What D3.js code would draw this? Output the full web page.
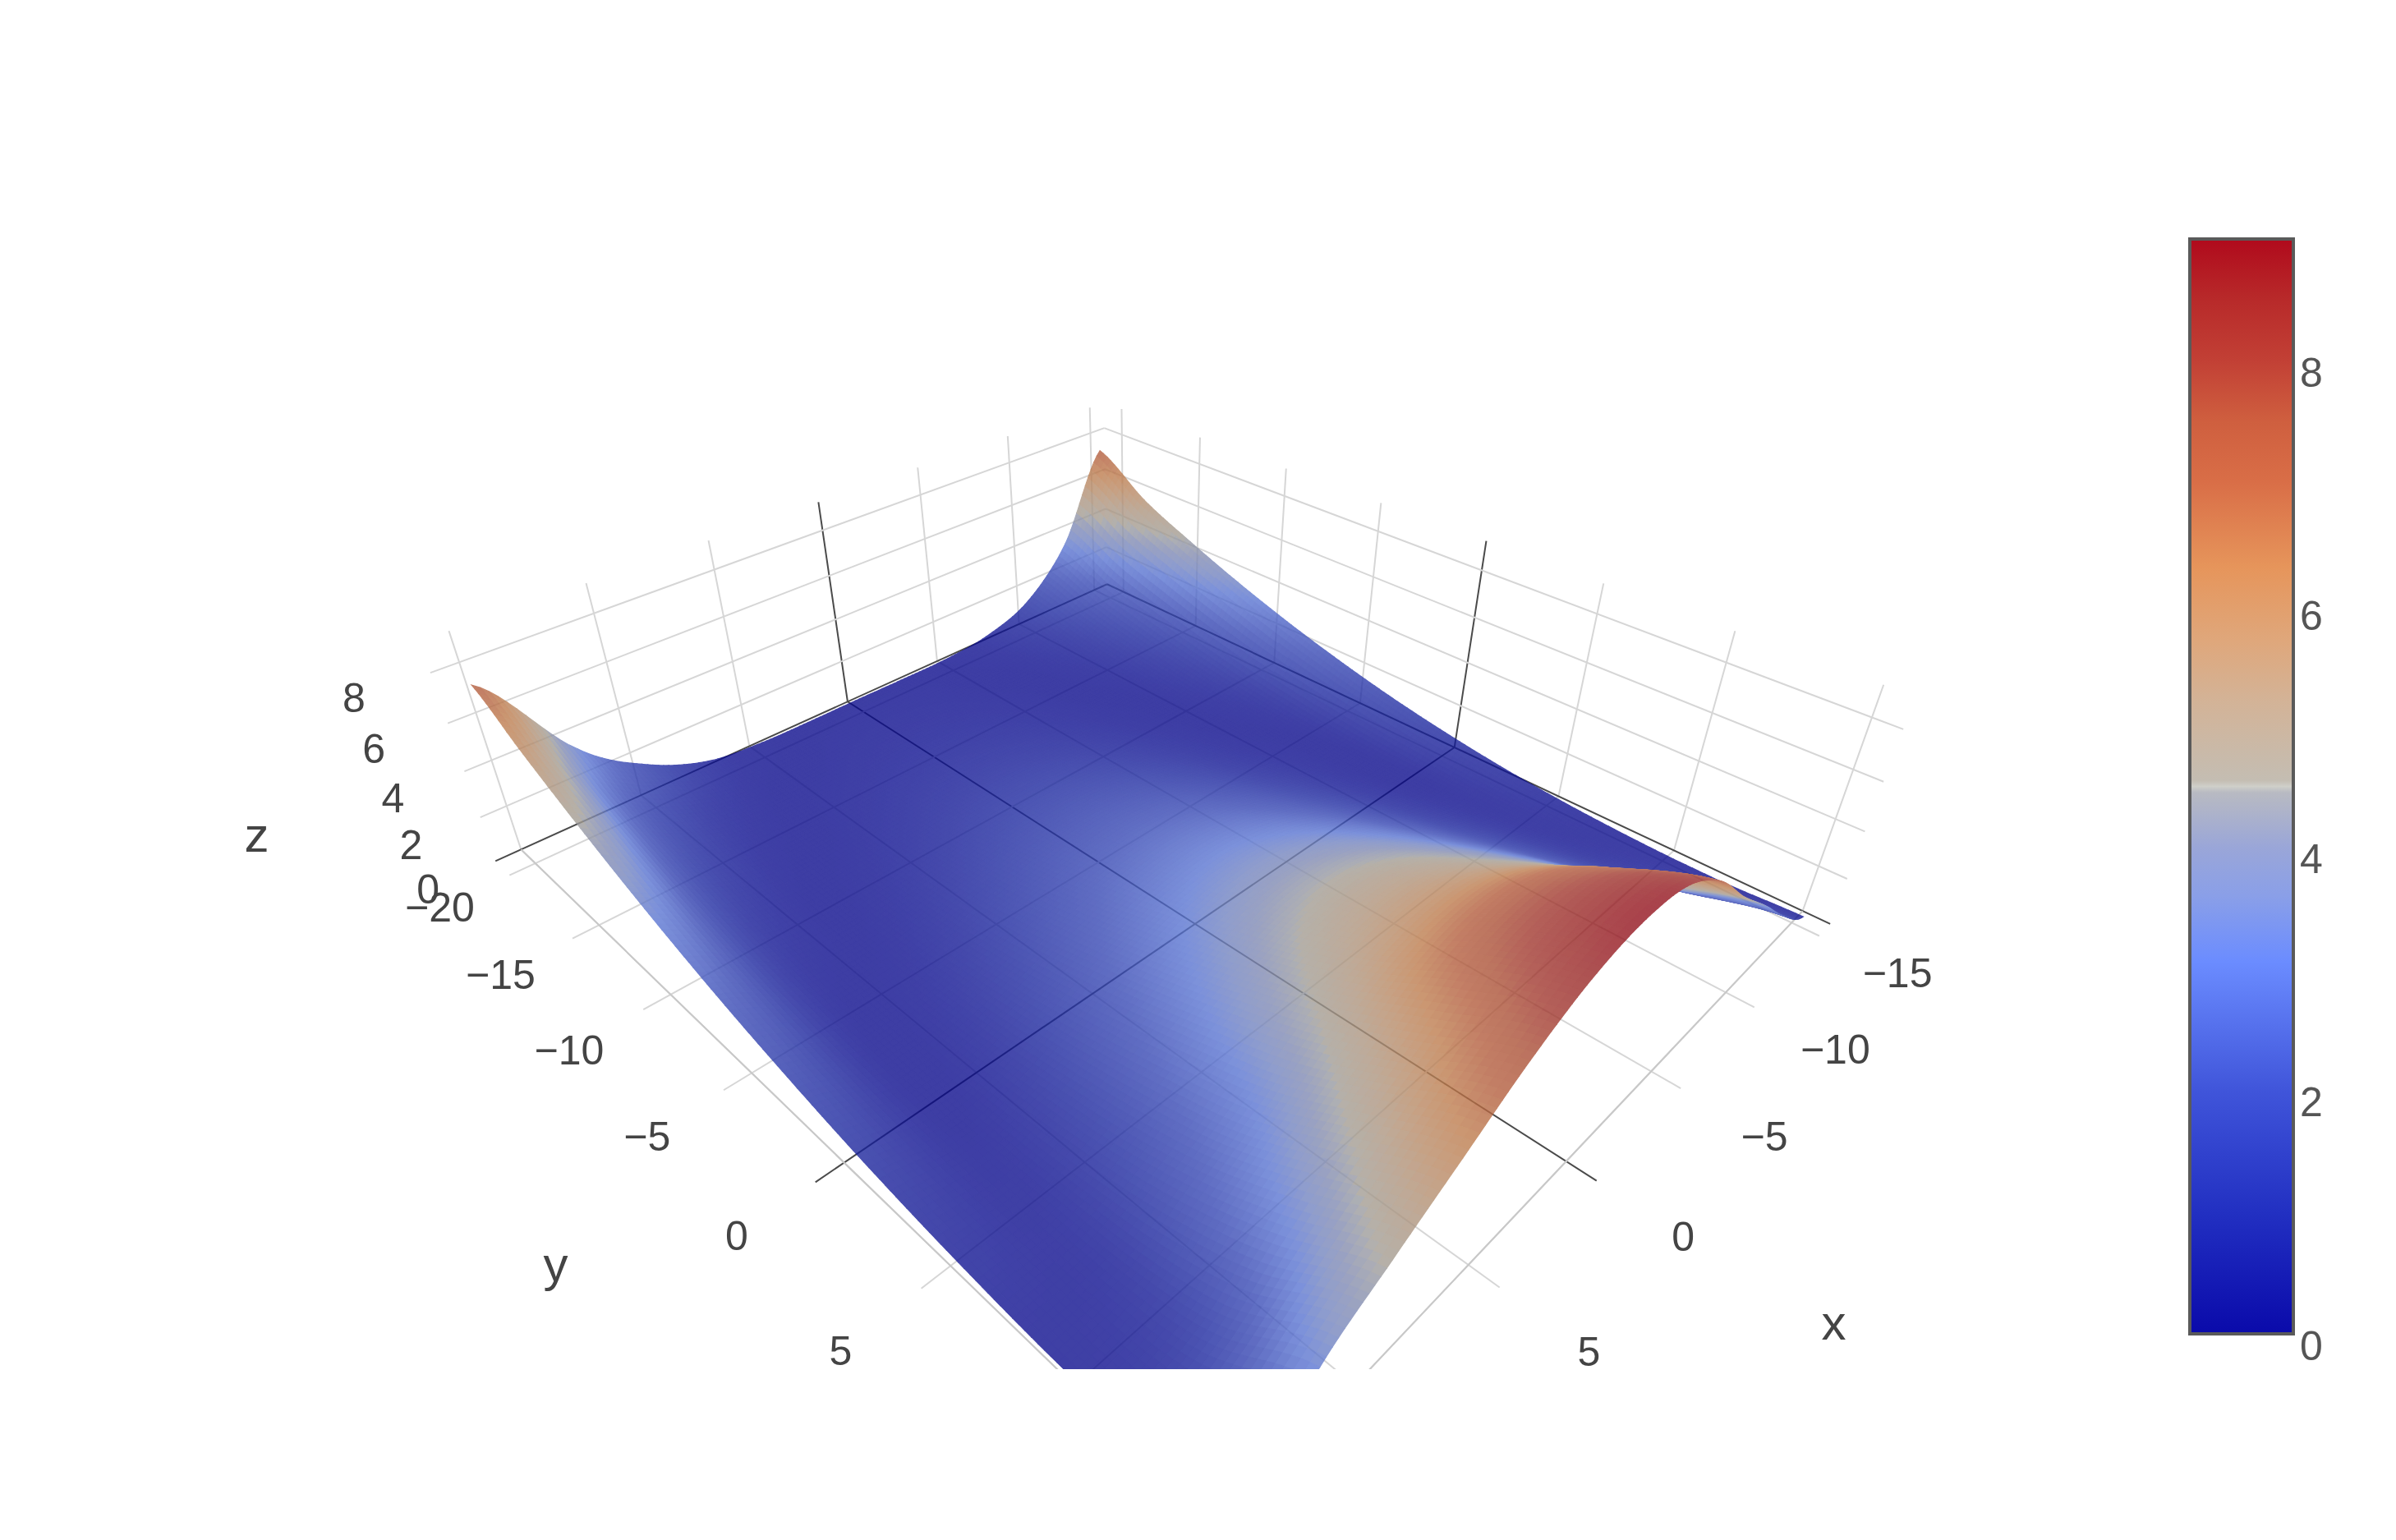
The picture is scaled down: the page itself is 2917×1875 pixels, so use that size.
<!DOCTYPE html>
<html>
<head>
<meta charset="utf-8">
<script src="https://cdn.jsdelivr.net/npm/d3@7"></script>
<style>
	body { margin: 0; background: #fff; }
	text { font-family: "Liberation Sans", Arial, sans-serif; }
</style>
</head>
<body>
<svg id="chart" width="2917" height="1875"></svg>
<script>
const xGrid = [-15.4, -13, -10.5, -8, -5.5, -3, -0.5, 2, 4.5, 7, 9.5, 12, 14.9];
const yGrid = [-21, -18, -15, -12, -9, -6, -3, 0, 3, 6, 9, 12, 15.2];
const zRows = [
	[7.1, 3.2, 1.12, .29, .03, 0, .01, 0, .03, .29, 1.3, 3.2, 7.14],
	[5.55, 2.18, .66, .09, 0, .06, .09, .06, 0, .09, .66, 2.18, 5.90],
	[4.46, 1.52, .32, 0, .07, .19, .24, .19, .07, 0, .32, 1.52, 4.78],
	[3.49, .98, .11, .02, .21, .43, .53, .43, .21, .02, .11, .98, 3.77],
	[2.64, .55, .01, .12, .46, .81, .95, .81, .46, .12, .01, .55, 2.88],
	[1.91, .25, .02, .31, .85, 1.31, 1.49, 1.31, .85, .31, .02, .25, 2.11],
	[1.29, .07, .11, .64, 1.36, 1.93, 2.14, 1.93, 1.36, .64, .11, .07, 1.47],
	[.80, 0, .28, 1.09, 1.99, 2.66, 2.91, 2.66, 1.99, 1.09, .28, 0, .93],
	[.42, .04, .60, 1.66, 2.74, 3.52, 3.80, 3.52, 2.74, 1.66, .60, .04, .52],
	[.17, .15, 1.03, 2.34, 3.60, 4.49, 4.81, 4.49, 3.60, 2.34, 1.03, .15, .23],
	[.03, .36, 1.59, 3.15, 4.59, 5.59, 5.94, 5.59, 4.59, 3.15, 1.8, .36, .06],
	[0, .85, 2.4, 4.07, 6.0, 7.3, 7.7, 7.3, 5.9, 4.6, 3.0, 1.1, .1],
	[.15, 1.6, 3.5, 5.3, 7.3, 8.6, 8.9, 8.5, 7.5, 6.1, 4.7, 3.2, .5]
];
const xTicks = [-15, -10, -5, 0, 5, 10, 15];
const yTicks = [-20, -15, -10, -5, 0, 5, 10, 15];
const zTicks = [0, 2, 4, 6, 8];
const colorbarTicks = [0, 2, 4, 6, 8];
const colorStops = [0, 1, 2, 3.06, 3.6, 4, 4.45, 4.5, 4.55, 5.2, 5.7, 6.3, 7, 7.5, 8, 8.5, 9];
const colorValues = ["#0a0aaa", "#2230c2", "#4055da", "#6b8cff", "#8a9fe8", "#9aa6d8", "#b8bac2", "#cfcfc9", "#c4bdb2",
	"#d3b397", "#dfa77b", "#e6955b", "#d96e47", "#cf5f3f", "#c24035", "#b82a2a", "#b00a1c"];

const xMin = -15.9, xMax = 15, yMin = -21.2, yMax = 15, zMax = 9.2, tick = 1;

var sx = d3.scaleLinear().domain([xMin, xMax]).range([-1, 1]);
var sy = d3.scaleLinear().domain([yMin, yMax]).range([-1, 1]);
var sz = d3.scaleLinear().domain([0, zMax]).range([0, 1]);
// the pale stripe at 4.5 only shows in the colorbar
var color = d3.scaleLinear()
	.domain(colorStops.filter(d => d != 4.5))
	.range(colorValues.filter((d, i) => colorStops[i] != 4.5));

// camera matrix, fitted to the axis corners and tick positions of the picture
const cam = [-599.418, 138.199, -148.718, 1391.020,
	43.975, 49.178, -355.953, 1070.580,
	-0.17207, -0.20214, -0.10654, 1];

function project(x, y, z) {
	let a = sx(x), b = sy(y), c = sz(z);
	let w = cam[8] * a + cam[9] * b + cam[10] * c + cam[11];
	return [(cam[0] * a + cam[1] * b + cam[2] * c + cam[3]) / w, (cam[4] * a + cam[5] * b + cam[6] * c + cam[7]) / w, w];
}

const sceneBottom = 1667;
var svg = d3.select("#chart");
svg.append("defs").append("clipPath").attr("id", "scene").append("rect")
	.attr("x", 0).attr("y", 0).attr("width", 2917).attr("height", sceneBottom);
var scene = svg.append("g").attr("clip-path", "url(#scene)");

const line3d = d3.line().x(p => p[0]).y(p => p[1]);
function gridLine(a, b, stroke) {
	scene.append("path")
		.attr("d", line3d([project(...a), project(...b)]))
		.attr("fill", "none").attr("stroke", stroke).attr("stroke-width", 2);
}
const gridColor = "#d6d6d6", zeroColor = "#4a4a4a";

for (const v of xTicks) {
	let c = v == 0 ? zeroColor : gridColor;
	gridLine([v, yMin, 0], [v, yMin, zMax], c);
	gridLine([v, yMin, 0], [v, yMax + tick, 0], c);
}
for (const v of yTicks) {
	let c = v == 0 ? zeroColor : gridColor;
	gridLine([xMin, v, 0], [xMin, v, zMax], c);
	gridLine([xMin, v, 0], [xMax + tick, v, 0], c);
}
for (const v of zTicks) {
	let c = v == 0 ? zeroColor : gridColor;
	gridLine([xMin, yMin, v], [xMax + tick, yMin, v], c);
	gridLine([xMin, yMin, v], [xMin, yMax + tick, v], c);
}
gridLine([xMax, yMin, 0], [xMax, yMax, 0], "#c8c8c8");
gridLine([xMin, yMax, 0], [xMax, yMax, 0], "#c8c8c8");

// catmull-rom through the table, only to draw a smooth mesh
function cr(p0, p1, p2, p3, t) {
	return .5 * (2 * p1 + (p2 - p0) * t + (2 * p0 - 5 * p1 + 4 * p2 - p3) * t * t + (3 * p1 - p0 - 3 * p2 + p3) * t * t * t);
}
const clampI = (i, n) => Math.max(0, Math.min(n - 1, i));
function surfaceZ(u, v) {
	let i = Math.min(Math.floor(u), xGrid.length - 2), j = Math.min(Math.floor(v), yGrid.length - 2);
	let col = d3.range(-1, 3).map(dj => {
		let r = zRows[clampI(j + dj, yGrid.length)];
		return cr(r[clampI(i - 1, xGrid.length)], r[i], r[i + 1], r[clampI(i + 2, xGrid.length)], u - i);
	});
	return Math.max(0, cr(col[0], col[1], col[2], col[3], v - j));
}
const xOf = d3.scaleLinear().domain(d3.range(xGrid.length)).range(xGrid);
const yOf = d3.scaleLinear().domain(d3.range(yGrid.length)).range(yGrid);

const steps = 12, nu = (xGrid.length - 1) * steps, nv = (yGrid.length - 1) * steps;
var verts = d3.range(nv + 1).map(b => d3.range(nu + 1).map(a => {
	let u = a / steps, v = b / steps, z = surfaceZ(u, v);
	return { p: project(xOf(u), yOf(v), z), z: z };
}));
var cells = [];
for (let b = 0; b < nv; b++) {
	for (let a = 0; a < nu; a++) {
		let q = [verts[b][a], verts[b][a + 1], verts[b + 1][a + 1], verts[b + 1][a]];
		cells.push({ q: q, z: d3.mean(q, d => d.z), w: d3.mean(q, d => d.p[2]) });
	}
}
cells.sort((m, n) => n.w - m.w);

const shade = (z) => {
	let c = d3.rgb(color(Math.min(z, 9)));
	return d3.rgb(c.r * .82, c.g * .82, c.b * .82).formatHex();
};
scene.append("g").attr("opacity", .78)
	.selectAll("path")
	.data(cells)
	.join("path")
	.attr("d", d => line3d(d.q.map(v => v.p)) + "Z")
	.attr("fill", d => shade(d.z))
	.attr("stroke", d => shade(d.z))
	.attr("stroke-width", 1.2);

// tick labels and titles sit on extended axis positions
const fmt = d => String(d).replace("-", "\u2212");
const labelColor = "#444";
function label(pos, str, size) {
	let p = project(...pos);
	if (p[1] + size * .4 > sceneBottom) return;
	scene.append("text")
		.attr("x", p[0]).attr("y", p[1]).attr("dy", ".35em")
		.attr("text-anchor", "middle").attr("font-size", size).attr("fill", labelColor)
		.text(str);
}
for (const v of xTicks) label([v, yMax + 3.7, 0], fmt(v), 50);
for (const v of yTicks) label([xMax + 3.6, v, 0], fmt(v), 50);
for (const v of zTicks) label([xMax + 3.5, yMin, v + .1], fmt(v), 50);
label([-0.3, yMax + 7.8, 0], "x", 60);
label([xMax + 7.6, -2.7, 0], "y", 60);
label([xMax + 7.7, yMin, 4.75], "z", 60);

// colorbar
const barX = 2666, barW = 126, barTop = 291, barBottom = 1624;
var cb = d3.scaleLinear().domain([0, 9]).range([barBottom, barTop]);
var grad = svg.select("defs").append("linearGradient").attr("id", "cbar")
	.attr("x1", 0).attr("y1", 1).attr("x2", 0).attr("y2", 0);
grad.selectAll("stop").data(colorStops).join("stop")
	.attr("offset", d => d / 9)
	.attr("stop-color", (d, i) => colorValues[i]);
svg.append("rect")
	.attr("x", barX).attr("y", barTop).attr("width", barW).attr("height", barBottom - barTop)
	.attr("fill", "url(#cbar)").attr("stroke", "#5a5a5a").attr("stroke-width", 4);
var cbAxis = svg.append("g")
	.attr("transform", `translate(${barX + barW},0)`)
	.call(d3.axisRight(cb).tickValues(colorbarTicks).tickSize(0).tickPadding(8));
cbAxis.select(".domain").remove();
cbAxis.selectAll("text").attr("font-size", 50).attr("fill", "#555").attr("dy", ".62em").style("font-family", '"Liberation Sans", Arial, sans-serif');
</script>
</body>
</html>
